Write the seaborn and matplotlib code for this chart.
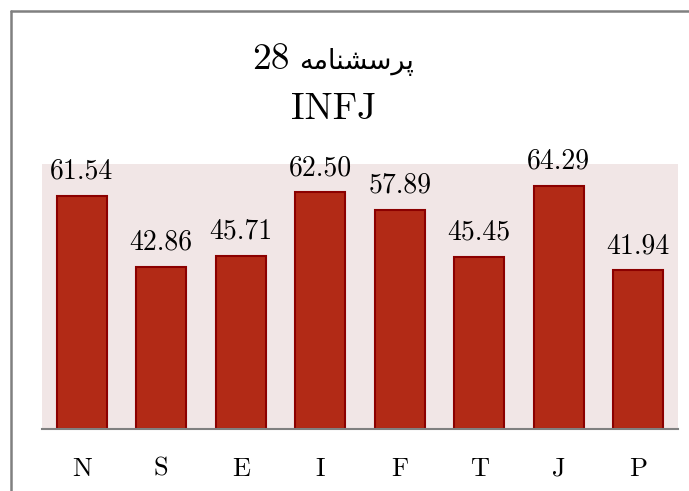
import matplotlib
matplotlib.use('Agg')
import matplotlib.pyplot as plt
import seaborn as sns
import pandas as pd
from matplotlib.lines import Line2D

# data
letters = ['N', 'S', 'E', 'I', 'F', 'T', 'J', 'P']
scores = [61.54, 42.86, 45.71, 62.50, 57.89, 45.45, 64.29, 41.94]

# persian title, shaped by hand (presentation forms, visual order)
word = '\uFEEA\uFEE3\uFE8E\uFEE8\uFEB8\uFEB3\uFEAE\uFB58'
number = '28'
title2 = 'INFJ'

sns.set_style('white')
plt.rcParams['font.family'] = ['cmr10', 'DejaVu Sans']
plt.rcParams['axes.unicode_minus'] = False
plt.rcParams['text.color'] = 'black'
plt.rcParams['xtick.color'] = 'black'

df = pd.DataFrame({'letter': letters, 'score': scores})

fig = plt.figure(figsize=(6.89, 4.91), dpi=100)
ax = fig.add_axes([0.061, 0.126, 0.923, 0.54])
sns.barplot(data=df, x='letter', y='score', color='#B22A16', saturation=1,
            width=0.63, edgecolor='#8B0000', linewidth=1.5, ax=ax)
ax.set_facecolor('#F1E6E6')
ax.set_ylim(0, 70)
ax.set_xlim(-0.5, 7.5)
ax.set_xlabel('')
ax.set_ylabel('')
ax.set_yticks([])
for s in ['top', 'right', 'left']:
    ax.spines[s].set_visible(False)
ax.spines['bottom'].set_color('#808080')
ax.spines['bottom'].set_linewidth(1.5)
ax.tick_params(axis='x', length=0, pad=20, labelsize=19, labelcolor='black')

ax.bar_label(ax.containers[0], fmt='%.2f', padding=8, fontsize=20, color='black')

# title line 1: number on the left, persian word on the right
fig.text(290/689, 1 - 69/491, number, ha='right', va='baseline', fontsize=27)
fig.text(299/689, 1 - 69/491, word, ha='left', va='baseline', fontsize=19.5,
         family='DejaVu Sans')
fig.text(334/689, 1 - 109/491, title2, ha='center', va='center', fontsize=27)

# outer frame, clipped on the right and bottom
fig.add_artist(Line2D([11/689, 11/689], [0, 1 - 11/491], transform=fig.transFigure,
                      color='#808080', lw=1.8))
fig.add_artist(Line2D([11/689, 1], [1 - 11/491, 1 - 11/491], transform=fig.transFigure,
                      color='#808080', lw=1.8))

fig.savefig('out.png', dpi=100)
